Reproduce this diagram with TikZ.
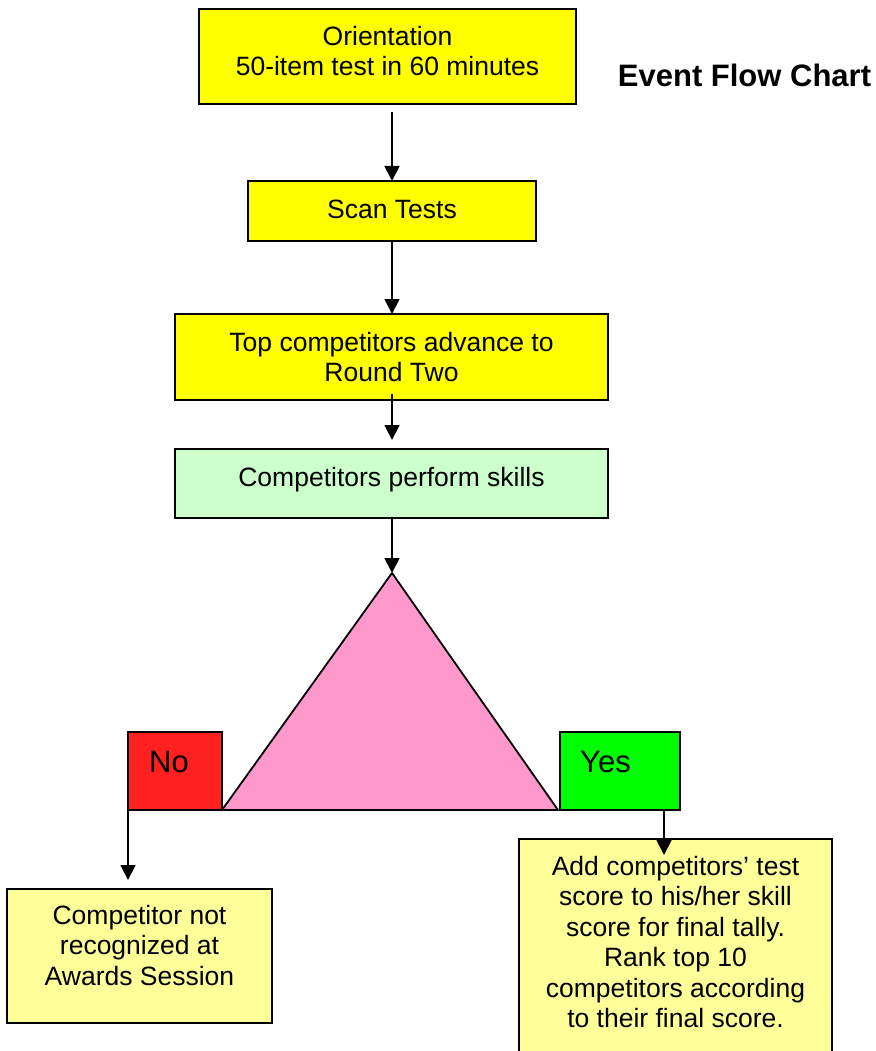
\documentclass[tikz,border=0pt]{standalone}
\usepackage{fontspec}
\setmainfont{Liberation Sans}
\usetikzlibrary{positioning,arrows.meta}
\definecolor{testyellow}{HTML}{FFFF00}
\definecolor{skillmint}{HTML}{CCFFCC}
\definecolor{judgepink}{HTML}{FF99CC}
\definecolor{nored}{HTML}{FF2020}
\definecolor{yesgreen}{HTML}{00FF00}
\definecolor{resultyellow}{HTML}{FFFF99}
\begin{document}
\begin{tikzpicture}
	[x=1pt,y=-1pt,
	 box/.style={draw,line width=1.8pt,inner sep=0pt,outer sep=0pt},
	 txt/.style={inner sep=0pt,align=center,font=\fontsize{26.5}{30.5}\selectfont},
	 bigtxt/.style={inner sep=0pt,font=\fontsize{31}{36}\selectfont},
	 line/.style={line width=1.8pt},
	 >={Triangle[width=15pt,length=15pt]}]
    \useasboundingbox (0,0) rectangle (875,1051);
    \clip (0,0) rectangle (875,1051);
    \node[bigtxt,font=\fontsize{31}{36}\selectfont\bfseries] (title) at (744.5,75) {Event Flow Chart};
    \node[box,fill=testyellow,minimum width=377pt,minimum height=95pt] (orient) at (387.5,56.5) {};
    \node[txt,below=17pt of orient.north] (orienttxt) {Orientation\\50-item test in 60 minutes};
    \node[box,fill=testyellow,minimum width=288pt,minimum height=60pt] (scan) at (392,211) {};
    \node[txt,below=19pt of scan.north] (scantxt) {Scan Tests};
    \node[box,fill=testyellow,minimum width=433pt,minimum height=86pt] (top) at (391.5,357) {};
    \node[txt,below=18pt of top.north] (toptxt) {Top competitors advance to\\Round Two};
    \node[box,fill=skillmint,minimum width=433pt,minimum height=69pt] (perform) at (391.5,483.5) {};
    \node[txt,below=18pt of perform.north] (performtxt) {Competitors perform skills};
    \coordinate (apex) at (392,573);
    \coordinate (baseL) at (222,810);
    \coordinate (baseR) at (558,810);
    \draw[line,fill=judgepink,line join=round] (apex) -- (baseL) -- (baseR) -- cycle;
    \node[box,fill=nored,minimum width=94pt,minimum height=78pt] (no) at (175,771) {};
    \node[bigtxt,anchor=north west,below right=19pt and 21pt of no.north west] (notxt) {No};
    \node[box,fill=yesgreen,minimum width=120pt,minimum height=78pt] (yes) at (620,771) {};
    \node[bigtxt,anchor=north west,below right=19pt and 20pt of yes.north west] (yestxt) {Yes};
    \node[box,fill=resultyellow,minimum width=265pt,minimum height=134pt] (notrec) at (139.5,956) {};
    \node[txt,below=16pt of notrec.north] (notrectxt) {Competitor not\\recognized at\\Awards Session};
    \node[box,fill=resultyellow,minimum width=313pt,minimum height=236pt] (tally) at (675.5,957) {};
    \node[txt,below=17pt of tally.north] (tallytxt) {Add competitors’ test\\score to his/her skill\\score for final tally.\\Rank top 10\\competitors according\\to their final score.};
    \draw[line,->,shorten <=8pt] (scan.north |- orient.south) -- (scan.north);
    \draw[line,->] (scan.south) -- (scan.south |- top.north);
    \draw[line,->,shorten <=-6pt,shorten >=9pt] (top.south -| scan.south) -- (scan.south |- perform.north);
    \draw[line,->] (apex |- perform.south) -- (apex);
    \draw[line,->,shorten >=9pt] (no.south west) -- (no.south west |- notrec.north);
    \draw[line,->,shorten >=-16pt] ([xshift=-16pt]yes.south east) -- ([xshift=-16pt]yes.south east |- tally.north);
\end{tikzpicture}
\end{document}
